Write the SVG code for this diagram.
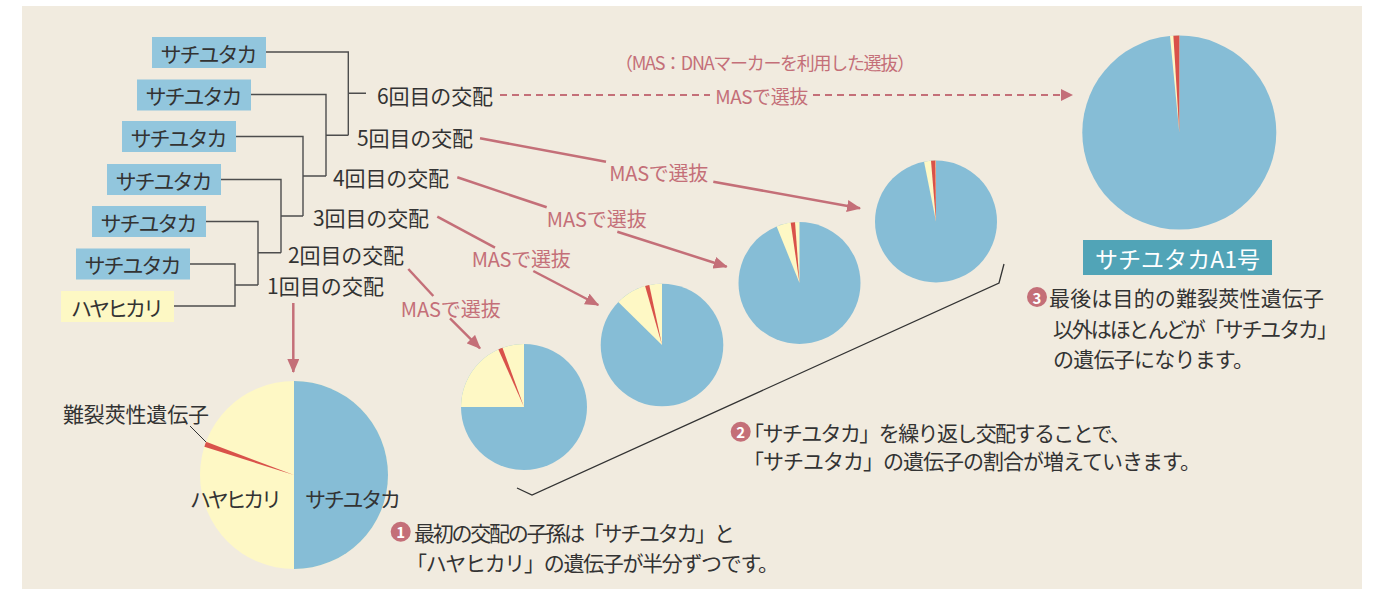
<svg xmlns="http://www.w3.org/2000/svg" width="1377" height="589" viewBox="0 0 1377 589">
<style>
text{font-family:"Noto Sans CJK JP","Noto Sans",sans-serif;fill:#333;dominant-baseline:central}
.lbl{font-size:21px}
.box{font-size:21px;text-anchor:middle}
.mas{font-size:20px;fill:#c46f78;text-anchor:middle}
.tree{fill:none;stroke:#4d4d4d;stroke-width:1.4}
.arr{fill:none;stroke:#c46f78;stroke-width:2.5}
.dash{fill:none;stroke:#c46f78;stroke-width:2.2;stroke-dasharray:7 5}
.blue{fill:#86bdd6}.yel{fill:#fef8c5}.red{fill:#d9524a}
.sbox{fill:#92c6dd}
.num{fill:#c46f78}
.numt{font-size:15px;font-weight:bold;fill:#fff;text-anchor:middle}
</style>
<defs>
<marker id="ah" viewBox="0 0 14 12" refX="13" refY="6" markerWidth="14" markerHeight="12" markerUnits="userSpaceOnUse" orient="auto">
<path d="M0,0 L14,6 L0,12 Z" fill="#c46f78"/>
</marker>
</defs>
<rect x="22" y="6" width="1340" height="583" fill="#f1ebdf"/>

<g id="parent1"><rect class="sbox" x="152" y="37" width="114" height="31"/><text class="box" x="209" y="52.5" textLength="97">サチユタカ</text></g>
<g id="parent2"><rect class="sbox" x="137" y="79.5" width="114" height="31"/><text class="box" x="194" y="95" textLength="97">サチユタカ</text></g>
<g id="parent3"><rect class="sbox" x="122" y="121" width="114" height="31"/><text class="box" x="179" y="136.5" textLength="97">サチユタカ</text></g>
<g id="parent4"><rect class="sbox" x="107" y="164" width="114" height="31"/><text class="box" x="164" y="179.5" textLength="97">サチユタカ</text></g>
<g id="parent5"><rect class="sbox" x="92" y="206" width="114" height="31"/><text class="box" x="149" y="221.5" textLength="97">サチユタカ</text></g>
<g id="parent6"><rect class="sbox" x="76" y="248.5" width="114" height="31"/><text class="box" x="133" y="264" textLength="97">サチユタカ</text></g>
<g id="hayahikari"><rect x="61" y="291" width="113" height="31" fill="#fdf8c4"/><text class="box" x="117.5" y="306.5" textLength="93">ハヤヒカリ</text></g>

<g id="cross1"><text class="lbl" x="267" y="285" textLength="117">1回目の交配</text></g>
<g id="cross2"><text class="lbl" x="288" y="254" textLength="116">2回目の交配</text></g>
<g id="cross3"><text class="lbl" x="313" y="217" textLength="116">3回目の交配</text></g>
<g id="cross4"><text class="lbl" x="333" y="177" textLength="116">4回目の交配</text></g>
<g id="cross5"><text class="lbl" x="357" y="137" textLength="116">5回目の交配</text></g>
<g id="cross6"><text class="lbl" x="377" y="95" textLength="116">6回目の交配</text></g>

<g id="connectors">
<path class="tree" d="M174,306 H235 V264 H190 M235,285 H258 M206,221.5 H258 V285 M258,252.7 H281 M221,179.5 H281 V252.7 M281,216 H303 M236,136.5 H303 V216 M303,176 H326 M251,94.5 H326 V176 M326,135.3 H348.3 M266,52 H348.3 V135.3 M348.3,93.3 H366"/>
<line class="arr" x1="293.3" y1="303" x2="293.3" y2="372" marker-end="url(#ah)"/>
<line class="arr" x1="408.3" y1="269" x2="433.3" y2="296"/>
<line class="arr" x1="450" y1="318.3" x2="480" y2="348.3" marker-end="url(#ah)"/>
<line class="arr" x1="437.3" y1="216.7" x2="495" y2="247.7"/>
<line class="arr" x1="533.3" y1="271" x2="598.3" y2="305" marker-end="url(#ah)"/>
<line class="arr" x1="457.3" y1="177.3" x2="546.7" y2="207.3"/>
<line class="arr" x1="617.3" y1="231.7" x2="726.7" y2="266.7" marker-end="url(#ah)"/>
<line class="arr" x1="480" y1="138.3" x2="606" y2="161.7"/>
<line class="arr" x1="713.3" y1="181.7" x2="860" y2="208.3" marker-end="url(#ah)"/>
<line class="dash" x1="500" y1="95" x2="710" y2="95"/>
<line class="dash" x1="813" y1="95" x2="1060" y2="95"/>
<path d="M1061,89 L1073,95 L1061,101 Z" fill="#c46f78"/>
<text class="mas" x="450.7" y="308.3" textLength="100">MASで選抜</text>
<text class="mas" x="521.2" y="258.3" textLength="99">MASで選抜</text>
<text class="mas" x="596.7" y="218.3" textLength="100">MASで選抜</text>
<text class="mas" x="658.8" y="172.3" textLength="99">MASで選抜</text>
<text class="mas" x="761.7" y="95" textLength="93" style="font-size:19px">MASで選抜</text>
<text class="mas" x="765" y="61.7" textLength="300" style="font-size:18px">（MAS：DNAマーカーを利用した選抜）</text>
<polyline points="517,488 532,495 999,283 1004,264" fill="none" stroke="#333" stroke-width="1.3"/>
<line x1="190" y1="426" x2="207" y2="443" stroke="#333" stroke-width="1"/>
</g>

<g id="pie-f1">
<circle class="yel" cx="294" cy="475" r="94"/>
<path class="blue" d="M294,475 L294,381 A94,94 0 0 1 294,569 Z"/>
<path class="red" d="M294,475 L204.35,446.73 A94,94 0 0 1 206.07,441.77 Z"/>
<text class="lbl" x="236" y="498" text-anchor="middle" textLength="92">ハヤヒカリ</text>
<text class="lbl" x="353" y="498" text-anchor="middle" textLength="96">サチユタカ</text>
<text class="lbl" x="136" y="412.7" text-anchor="middle" textLength="146">難裂莢性遺伝子</text>
</g>

<g id="pie-2">
<circle class="blue" cx="524" cy="407" r="63"/>
<path class="yel" d="M524,407 L461,407 A63,63 0 0 1 524,344 Z"/>
<path class="red" d="M524,407 L498.38,349.45 A63,63 0 0 1 502.45,347.8 Z"/>
</g>
<g id="pie-3">
<circle class="blue" cx="662" cy="345" r="61.3"/>
<path class="yel" d="M662,345 L618.27,302.03 A61.3,61.3 0 0 1 662,283.7 Z"/>
<path class="red" d="M662,345 L645.1,286.07 A61.3,61.3 0 0 1 649.26,285.04 Z"/>
</g>
<g id="pie-4">
<circle class="blue" cx="799.5" cy="283" r="61"/>
<path class="yel" d="M799.5,283 L776.65,226.44 A61,61 0 0 1 799.5,222 Z"/>
<path class="red" d="M799.5,283 L790.69,222.64 A61,61 0 0 1 795.03,222.16 Z"/>
</g>
<g id="pie-5">
<circle class="blue" cx="936" cy="221.5" r="61"/>
<path class="yel" d="M936,221.5 L924.05,161.68 A61,61 0 0 1 936,160.5 Z"/>
<path class="red" d="M936,221.5 L931,160.71 A61,61 0 0 1 935.47,160.5 Z"/>
</g>
<g id="pie-a1">
<circle class="blue" cx="1179.3" cy="132.5" r="97"/>
<path class="yel" d="M1179.3,132.5 L1170,35.95 A97,97 0 0 1 1179.3,35.5 Z"/>
<path class="red" d="M1179.3,132.5 L1173.38,35.68 A97,97 0 0 1 1179.3,35.5 Z"/>
</g>
<g id="a1-label">
<rect x="1083" y="240" width="189" height="35" fill="#51a4b7"/>
<text x="1177.5" y="257.5" text-anchor="middle" textLength="165" style="font-size:23px;fill:#fff">サチユタカA1号</text>
</g>

<g id="note1">
<circle class="num" cx="400.7" cy="531.7" r="10"/><text class="numt" x="400.7" y="531.7">1</text>
<text class="lbl" x="414" y="531.7" textLength="321">最初の交配の子孫は「サチユタカ」と</text>
<text class="lbl" x="406" y="561.7" textLength="373">「ハヤヒカリ」の遺伝子が半分ずつです。</text>
</g>
<g id="note2">
<circle class="num" cx="740.7" cy="431.7" r="10"/><text class="numt" x="740.7" y="431.7">2</text>
<text class="lbl" x="743" y="431.7" textLength="388">「サチユタカ」を繰り返し交配することで、</text>
<text class="lbl" x="743" y="460" textLength="458">「サチユタカ」の遺伝子の割合が増えていきます。</text>
</g>
<g id="note3">
<circle class="num" cx="1037" cy="297" r="10"/><text class="numt" x="1037" y="297">3</text>
<text class="lbl" x="1049" y="296.7" textLength="275">最後は目的の難裂莢性遺伝子</text>
<text class="lbl" x="1053" y="328.3" textLength="285">以外はほとんどが「サチユタカ」</text>
<text class="lbl" x="1053" y="358.3" textLength="201">の遺伝子になります。</text>
</g>
</svg>
